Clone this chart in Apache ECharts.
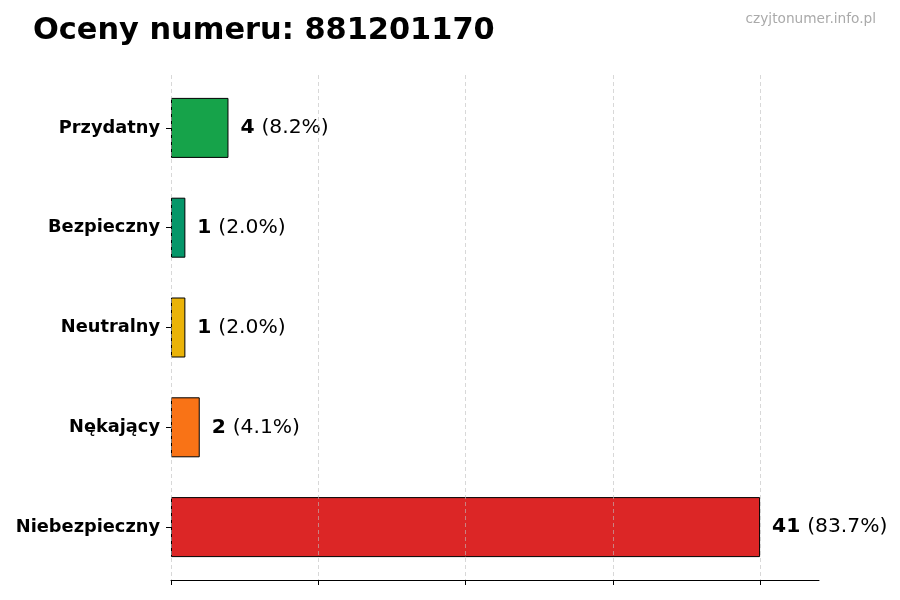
<!DOCTYPE html>
<html><head><meta charset="utf-8">
<script src="https://cdn.jsdelivr.net/npm/echarts@6/dist/echarts.min.js"></script>
<style>html,body{margin:0;padding:0;background:#fff}#c{width:900px;height:600px}</style>
</head><body><div id="c"></div>
<script>
const categories = ['Przydatny', 'Bezpieczny', 'Neutralny', 'Nękający', 'Niebezpieczny'];
const counts = [4, 1, 1, 2, 41];
const percents = ['8.2', '2.0', '2.0', '4.1', '83.7'];
const colors = ['#16a34a', '#059669', '#eab308', '#f97316', '#dc2626'];
const titleText = 'Oceny numeru: 881201170';
const watermark = 'czyjtonumer.info.pl';

const maxVal = Math.max(...counts);
const axisMax = maxVal * 1.1;
const tickStep = maxVal / 4;
const font = 'DejaVu Sans';

const gridLeft = 171, gridRight = 81;
const fullWidth = 900 - gridLeft - gridRight;

const chart = echarts.init(document.getElementById('c'), null, {renderer: 'canvas'});
chart.setOption({
  animation: false,
  textStyle: {fontFamily: font},
  title: [
    {text: titleText, left: 28, top: 11, textStyle: {fontFamily: font, fontSize: 30.4, fontWeight: 'bold', color: '#000'}},
    {text: watermark, right: 19, top: 7, textStyle: {fontFamily: font, fontSize: 13.7, fontWeight: 'normal', color: '#aaaaaa'}}
  ],
  grid: [
    {left: gridLeft, right: gridRight, top: 78, bottom: 23},
    {left: gridLeft, right: gridRight, top: 75, bottom: 20},
    {left: gridLeft, width: fullWidth * maxVal / axisMax, top: 75, bottom: 20}
  ],
  xAxis: [
    {gridIndex: 0, type: 'value', min: 0, max: axisMax, show: false},
    {gridIndex: 1, type: 'value', min: 0, max: axisMax,
     axisLine: {show: true, lineStyle: {color: '#000', width: 1}},
     axisTick: {show: false}, axisLabel: {show: false}, splitLine: {show: false}},
    {gridIndex: 2, type: 'value', min: 0, max: maxVal, interval: tickStep, z: 5,
     axisLine: {show: false},
     axisTick: {show: true, length: 5, lineStyle: {color: '#000', width: 1}},
     axisLabel: {show: false},
     splitLine: {show: true, lineStyle: {color: 'rgba(190,190,190,0.6)', type: [4, 3], width: 1}}}
  ],
  yAxis: [
    {gridIndex: 0, type: 'category', data: categories, inverse: true,
     axisLine: {show: false},
     axisTick: {show: true, alignWithLabel: true, length: 5, lineStyle: {color: '#000'}},
     axisLabel: {margin: 11, fontFamily: font, fontSize: 17.8, fontWeight: 'bold', color: '#000'},
     splitLine: {show: false}},
    {gridIndex: 1, type: 'category', data: categories, inverse: true, show: false},
    {gridIndex: 2, type: 'category', data: categories, inverse: true, show: false}
  ],
  series: [{
    type: 'bar', xAxisIndex: 0, yAxisIndex: 0, barWidth: 60,
    data: counts.map((v, i) => ({value: v, itemStyle: {color: colors[i]}})),
    itemStyle: {borderColor: '#000', borderWidth: 1},
    label: {
      show: true, position: 'right', distance: 12,
      formatter: p => '{b|' + counts[p.dataIndex] + '} {n|(' + percents[p.dataIndex] + '%)}',
      rich: {
        b: {fontFamily: font, fontSize: 20.3, fontWeight: 'bold', color: '#000'},
        n: {fontFamily: font, fontSize: 20.3, fontWeight: 'normal', color: '#000', padding: [0, 0, 0, 3]}
      }
    }
  }]
});
</script></body></html>
